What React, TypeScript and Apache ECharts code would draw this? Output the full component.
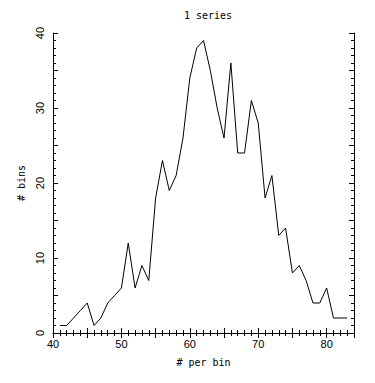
import React, { useEffect, useRef } from "react";
import * as echarts from "echarts";

const TITLE = "1 series";
const X_NAME = "# per bin";
const Y_NAME = "# bins";

const bins = [
  41, 42, 43, 44, 45, 46, 47, 48, 49, 50,
  51, 52, 53, 54, 55, 56, 57, 58, 59, 60,
  61, 62, 63, 64, 65, 66, 67, 68, 69, 70,
  71, 72, 73, 74, 75, 76, 77, 78, 79, 80,
  81, 82, 83,
];
const counts = [
  1, 1, 2, 3, 4, 1, 2, 4, 5, 6,
  12, 6, 9, 7, 18, 23, 19, 21, 26, 34,
  38, 39, 35, 30, 26, 36, 24, 24, 31, 28,
  18, 21, 13, 14, 8, 9, 7, 4, 4, 6,
  2, 2, 2,
];

const X_MIN = 40;
const X_MAX = 84;
const Y_MIN = 0;
const Y_MAX = 40;

export default function App() {
  const ref = useRef<HTMLDivElement>(null);

  useEffect(() => {
    if (!ref.current) return;
    const chart = echarts.init(ref.current, null, { renderer: "svg" });
    const labelFont = {
      fontFamily: "Liberation Sans",
      fontSize: 11,
      color: "#000",
    };
    const axisCommon = {
      axisLine: { show: true, lineStyle: { color: "#000", width: 1 } },
      axisTick: { show: true, inside: true, length: 5, lineStyle: { color: "#000" } },
      minorTick: { show: true, splitNumber: 5, length: 3, lineStyle: { color: "#000" } },
      splitLine: { show: false },
      minorSplitLine: { show: false },
    };
    const fmt = (v: number) => (v % 10 === 0 ? String(v) : "");
    chart.setOption({
      animation: false,
      backgroundColor: "#fff",
      title: {
        text: TITLE,
        left: 203,
        top: 5,
        textAlign: "center",
        textStyle: {
          fontFamily: "DejaVu Sans Mono",
          fontSize: 10,
          fontWeight: "normal",
          color: "#000",
        },
      },
      grid: { left: 53, right: 21, top: 33, bottom: 50, containLabel: false },
      xAxis: [
        {
          type: "value",
          min: X_MIN,
          max: X_MAX,
          interval: 5,
          position: "bottom",
          name: X_NAME,
          nameLocation: "middle",
          nameGap: 24,
          nameTextStyle: { fontFamily: "DejaVu Sans Mono", fontSize: 10, color: "#000" },
          axisLabel: { ...labelFont, margin: 5, formatter: fmt, showMaxLabel: false },
          ...axisCommon,
        },
        {
          type: "value",
          min: X_MIN,
          max: X_MAX,
          interval: 5,
          position: "top",
          axisLabel: { show: false },
          ...axisCommon,
        },
      ],
      yAxis: [
        {
          type: "value",
          min: Y_MIN,
          max: Y_MAX,
          interval: 5,
          position: "left",
          name: Y_NAME,
          nameLocation: "middle",
          nameGap: 23,
          nameRotate: 90,
          nameTextStyle: { fontFamily: "DejaVu Sans Mono", fontSize: 10, color: "#000" },
          axisLabel: { ...labelFont, margin: 8, rotate: 90, formatter: fmt },
          ...axisCommon,
        },
        {
          type: "value",
          min: Y_MIN,
          max: Y_MAX,
          interval: 5,
          position: "right",
          axisLabel: { show: false },
          ...axisCommon,
        },
      ],
      series: [
        {
          type: "line",
          xAxisIndex: 0,
          yAxisIndex: 0,
          data: bins.map((b, i) => [b, counts[i]]),
          showSymbol: false,
          symbol: "none",
          lineStyle: { color: "#000", width: 1 },
        },
      ],
    });
    return () => chart.dispose();
  }, []);

  return (
    <div
      ref={ref}
      style={{ position: "fixed", left: 0, top: 0, width: 375, height: 383, background: "#fff" }}
    />
  );
}
